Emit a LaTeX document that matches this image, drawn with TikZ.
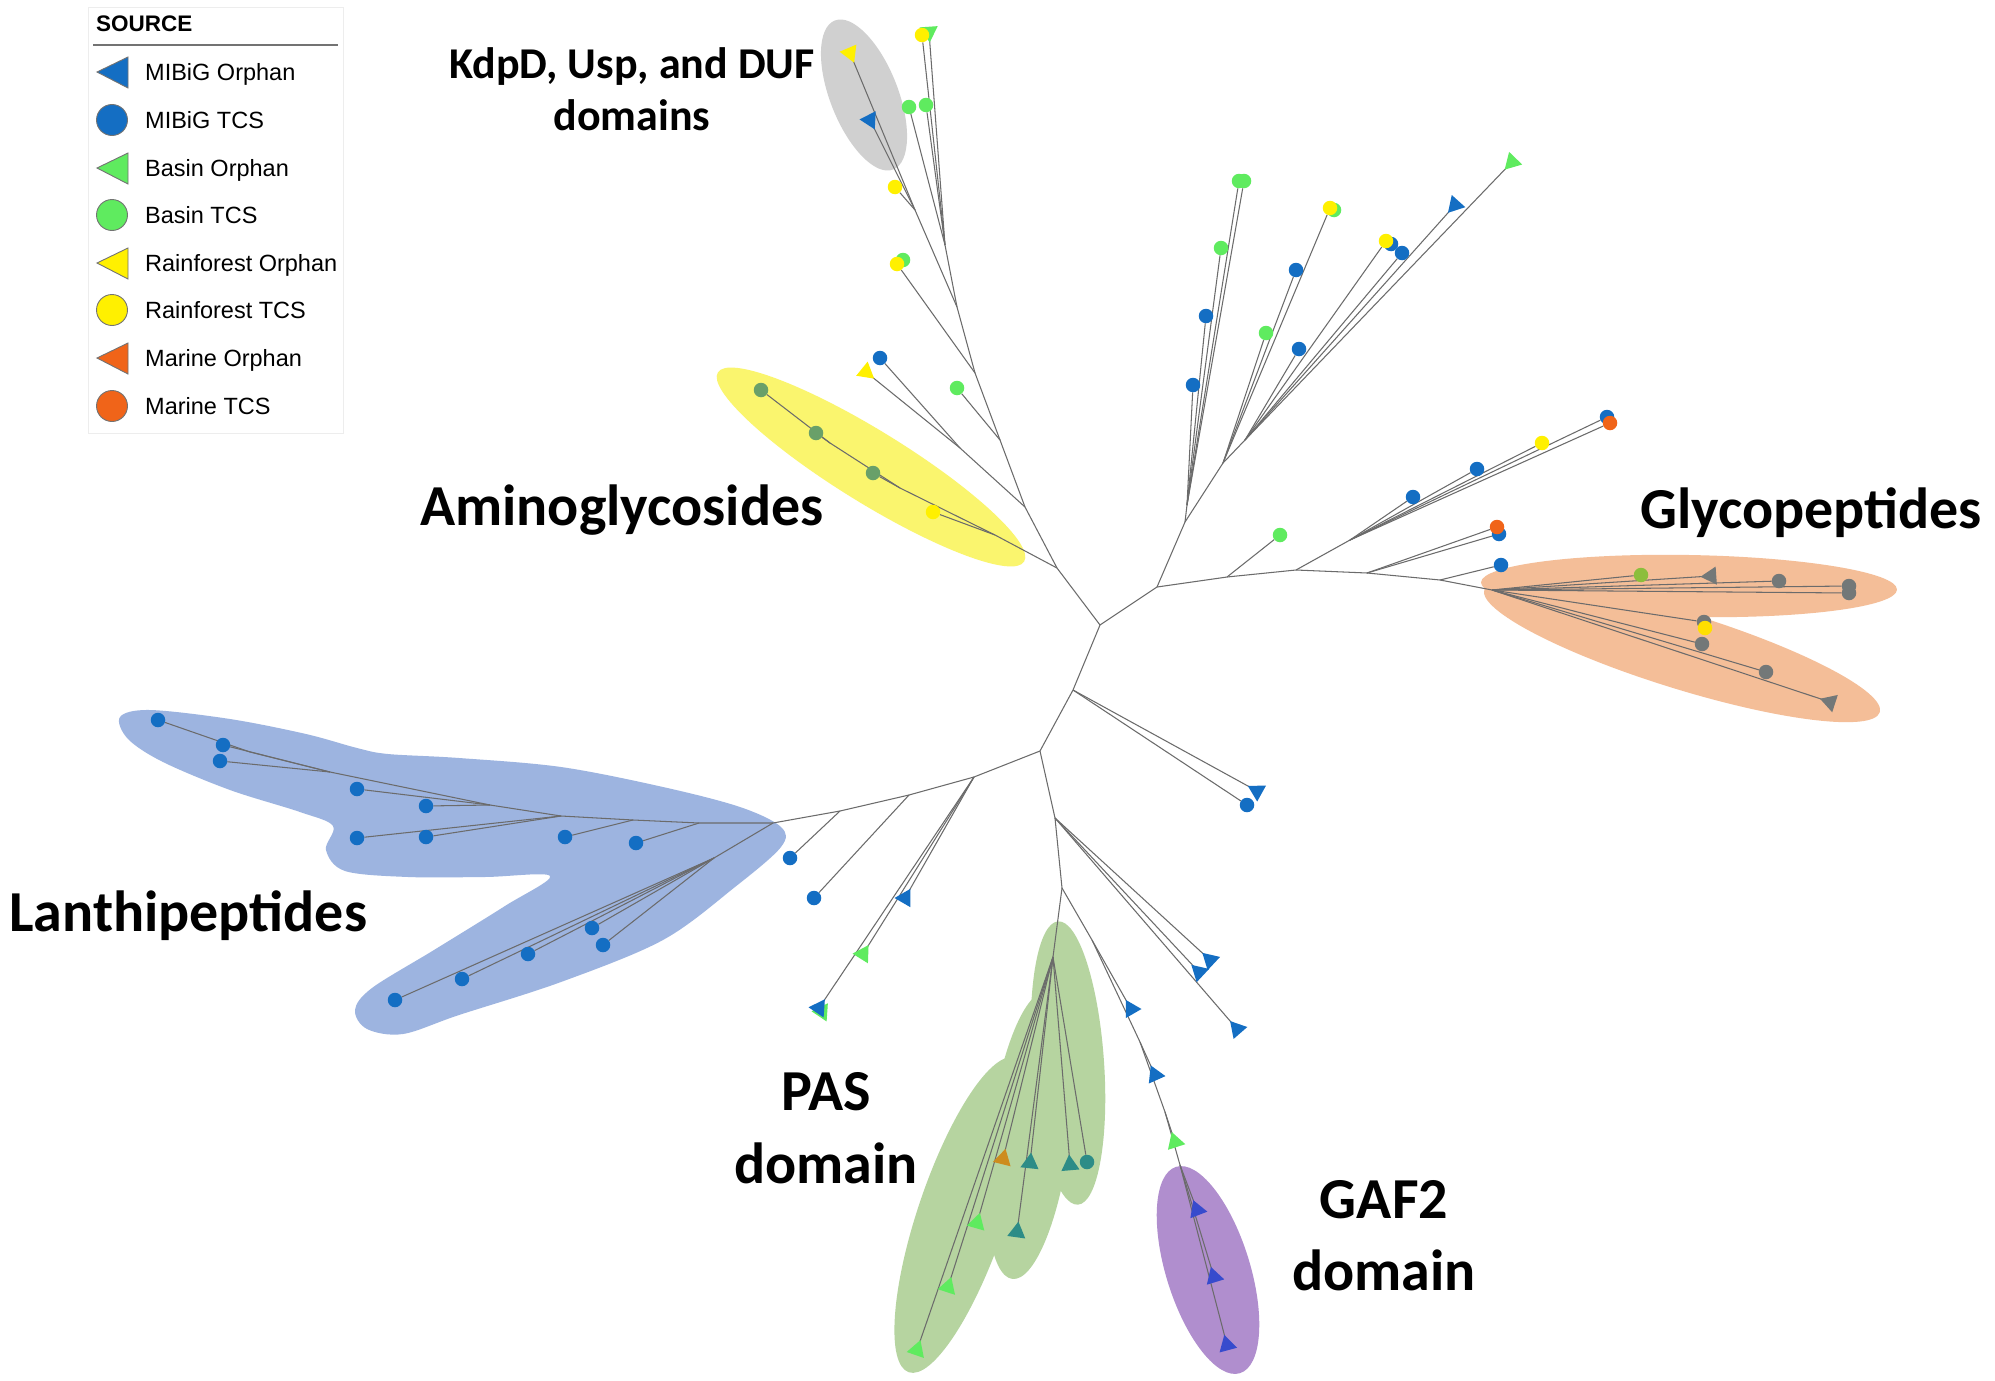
\documentclass[tikz,border=0pt]{standalone}
\usepackage{fontspec}
\setmainfont{Carlito}
\newfontfamily\legfont{Liberation Sans}
\usetikzlibrary{shapes.geometric}
\pgfdeclarelayer{paper}
\pgfdeclarelayer{shade}
\pgfdeclarelayer{edges}
\pgfsetlayers{paper,shade,edges,main}
\definecolor{mblue}{RGB}{20,110,195}
\definecolor{bgreen}{RGB}{95,235,95}
\definecolor{ryellow}{RGB}{255,240,0}
\definecolor{morange}{RGB}{240,100,25}
\definecolor{tealc}{RGB}{45,140,135}
\definecolor{amg}{RGB}{105,160,105}
\definecolor{ggray}{RGB}{115,120,120}
\definecolor{olive}{RGB}{140,190,60}
\definecolor{porange}{RGB}{205,140,30}
\definecolor{purp}{RGB}{55,75,205}
\definecolor{eblue}{RGB}{157,180,224}
\definecolor{eyellow}{RGB}{250,245,110}
\definecolor{egray}{RGB}{208,208,208}
\definecolor{eorange}{RGB}{244,190,152}
\definecolor{egreen}{RGB}{182,212,160}
\definecolor{epurple}{RGB}{176,142,206}
\newcommand\lfc[3]{\node[lcirc,fill=#1] (#2) at (#3) {};}
\newcommand\lft[4]{\coordinate (#2) at (#3); \fill[#1] ([shift={(#4:10.5)}]#2) -- ([shift={(#4+120:10.5)}]#2) -- ([shift={(#4-120:10.5)}]#2) -- cycle;}
\begin{document}
\begin{tikzpicture}[x=1pt,y=-1pt,
  branch/.style={draw=black!58, line width=1.05pt},
  lcirc/.style={circle, inner sep=0pt, minimum size=14.5pt},
  clab/.style={font=\fontsize{58}{70}\selectfont\bfseries, inner sep=0pt},
  kdlab/.style={font=\fontsize{44}{52}\selectfont\bfseries, inner sep=0pt},
  legtxt/.style={font=\legfont\fontsize{23.5}{28}\selectfont, anchor=base west, inner sep=0pt},
  legmark/.style={draw=black!55, line width=0.9pt}]
\useasboundingbox (0,0) rectangle (1995,1381);
\begin{pgfonlayer}{paper}
\fill[white] (0,0) rectangle (1995,1381);
\end{pgfonlayer}

% ---------- shaded clades ----------
\begin{pgfonlayer}{shade}
\fill[egray, rotate around={-68.6:(864,95)}] (864,95) ellipse [x radius=80pt, y radius=34pt];
\fill[eyellow, rotate around={-31.7:(871,467)}] (871,467) ellipse [x radius=180pt, y radius=36pt];
\fill[eorange, rotate around={-1:(1689,586)}] (1689,586) ellipse [x radius=208pt, y radius=31pt];
\fill[eorange, rotate around={-17.2:(1682,651)}] (1682,651) ellipse [x radius=207pt, y radius=38pt];
\fill[egreen, rotate around={-86:(1068,1063)}] (1068,1063) ellipse [x radius=142pt, y radius=36pt];
\fill[egreen, rotate around={-97:(1030,1135)}] (1030,1135) ellipse [x radius=145pt, y radius=40pt];
\fill[egreen, rotate around={-108.7:(962,1215)}] (962,1215) ellipse [x radius=166pt, y radius=44pt];
\fill[epurple, rotate around={-72.8:(1208,1270)}] (1208,1270) ellipse [x radius=108pt, y radius=42pt];
\fill[eblue] plot[smooth cycle, tension=0.55] coordinates {(120,717) (150,710) (230,719) (306,734) (357,748) (388,754) (459,758) (561,767) (663,787) (740,807) (781,827) (781,847) (735,887) (663,940) (561,982) (459,1015) (403,1034) (367,1029) (355,1010) (372,988) (434,950) (505,906) (550,876) (485,877) (408,877) (345,871) (326,850) (333,826) (300,812) (230,790) (163,762) (128,739)};
\end{pgfonlayer}

% ---------- internal nodes ----------
\coordinate (C0) at (1100,625);
\coordinate (N1) at (1057,568);
\coordinate (N1y) at (995,535);
\coordinate (Ny2) at (900,488);
\coordinate (Ny3) at (830,443);
\coordinate (N1a) at (1025,507);
\coordinate (N1ab) at (960,448);
\coordinate (N1b) at (1000,440);
\coordinate (N1c) at (975,373);
\coordinate (N1d) at (957,307);
\coordinate (Nk) at (915,210);
\coordinate (Ng) at (945,245);
\coordinate (N2) at (1157,587);
\coordinate (N3) at (1185,522);
\coordinate (Nu1) at (1187,505);
\coordinate (Nv) at (1223,463);
\coordinate (Nx) at (1245,440);
\coordinate (N4) at (1227,577);
\coordinate (N5) at (1296,570);
\coordinate (Nr) at (1350,540);
\coordinate (N6) at (1367,573);
\coordinate (Nga) at (1440,580);
\coordinate (Ng0) at (1492,590);
\coordinate (N7) at (1073,690);
\coordinate (N8) at (1040,751);
\coordinate (N11) at (974,777);
\coordinate (N12) at (909,795);
\coordinate (N13) at (840,811);
\coordinate (Lroot) at (773,823);
\coordinate (La1) at (699,823);
\coordinate (La2) at (633,820);
\coordinate (La3) at (561,816);
\coordinate (La4) at (490,805);
\coordinate (La5) at (330,772);
\coordinate (La6) at (250,752);
\coordinate (Lb1) at (714,858);
\coordinate (N9) at (1055,818);
\coordinate (N10) at (1062,888);
\coordinate (Np) at (1053,957);
\coordinate (Nq1) at (1092,940);
\coordinate (Nq2) at (1140,1042);
\coordinate (Nq3) at (1165,1112);
\coordinate (Nq4) at (1180,1165);

% ---------- leaves ----------
% KdpD / top
\lft{ryellow}{k1}{850,53}{67}
\lft{mblue}{k2}{870,120}{63}
\lfc{ryellow}{k3}{895,187}
\lft{bgreen}{k4b}{929,32}{86}
\lfc{ryellow}{k4}{922,35}
\lfc{bgreen}{k5}{909,107}
\lfc{bgreen}{k6}{926,105}
\lfc{bgreen}{k7g}{903,260}
\lfc{ryellow}{k7}{897,264}
\lfc{bgreen}{k8}{957,388}
\lft{ryellow}{k9b}{866,372}{39}
\lfc{mblue}{k9}{880,358}
% aminoglycosides
\lfc{amg}{a1}{761,390}
\lfc{amg}{a2}{816,433}
\lfc{amg}{a3}{873,473}
\lfc{ryellow}{a4}{933,512}
% upper right
\lfc{mblue}{u1}{1193,385}
\lfc{mblue}{u2}{1206,316}
\lfc{bgreen}{u3}{1221,248}
\lfc{bgreen}{u4b}{1244,181}
\lfc{bgreen}{u4}{1239,181}
\lfc{bgreen}{v1}{1266,333}
\lfc{mblue}{v2}{1296,270}
\lfc{bgreen}{v3b}{1334,210}
\lfc{ryellow}{v3}{1330,208}
\lfc{mblue}{x1}{1299,349}
\lfc{mblue}{x2b}{1391,244}
\lfc{ryellow}{x2}{1386,241}
\lfc{mblue}{x3}{1402,253}
\lft{mblue}{x4}{1455,205}{132}
\lft{bgreen}{x5}{1512,162}{134}
% right
\lfc{bgreen}{r0}{1280,535}
\lfc{mblue}{r1}{1413,497}
\lfc{mblue}{r2}{1477,469}
\lfc{ryellow}{r3}{1542,443}
\lfc{mblue}{r4}{1607,417}
\lfc{morange}{r5}{1610,423}
\lfc{mblue}{r6}{1499,534}
\lfc{morange}{r7}{1497,527}
\lfc{mblue}{r8}{1501,565}
% glycopeptides
\lfc{olive}{g1}{1641,575}
\lft{ggray}{g2}{1711,576}{176}
\lfc{ggray}{g3}{1779,581}
\lfc{ggray}{g4b}{1849,593}
\lfc{ggray}{g4}{1849,586}
\lfc{ggray}{g5}{1704,622}
\lfc{ryellow!85!orange}{g5y}{1705,628}
\lfc{ggray}{g6}{1702,644}
\lfc{ggray}{g7}{1766,672}
\lft{ggray}{g8}{1830,702}{-162}
% lower right
\lft{mblue}{t1}{1257,791}{-151}
\lfc{mblue}{t2}{1247,805}
\lft{mblue}{t3}{1210,960}{-137}
\lft{mblue}{t4}{1199,972}{-137}
\lft{mblue}{t5}{1237,1029}{-131}
\lft{mblue}{t6}{1131,1009}{-120}
\lft{mblue}{t7}{1155,1075}{-114}
\lft{bgreen}{t8}{1175,1142}{-108}
\lft{purp}{p1}{1197,1210}{-111}
\lft{purp}{p2}{1214,1277}{-107}
\lft{purp}{p3}{1227,1345}{-105}
% PAS
\lft{bgreen}{s1}{917,1350}{-71}
\lft{bgreen}{s2}{948,1287}{-72}
\lft{bgreen}{s3}{977,1223}{-74}
\lft{porange}{s4}{1003,1159}{-76}
\lft{tealc}{s5}{1030,1163}{-84}
\lft{tealc}{s6}{1017,1232}{-82}
\lft{tealc}{s7}{1070,1165}{-95}
\lfc{tealc}{s8}{1087,1162}
% lower left
\lfc{mblue}{w1}{790,858}
\lfc{mblue}{w2}{814,898}
\lft{mblue}{w3}{905,898}{-60}
\lft{bgreen}{w4}{863,954}{-58}
\lft{bgreen}{w5b}{822,1012}{-56}
\lft{mblue}{w5}{819,1008}{-56}
% lanthipeptides
\lfc{mblue}{l1}{158,720}
\lfc{mblue}{l2}{223,745}
\lfc{mblue}{l3}{220,761}
\lfc{mblue}{l4}{357,789}
\lfc{mblue}{l5}{426,806}
\lfc{mblue}{l6}{357,838}
\lfc{mblue}{l7}{426,837}
\lfc{mblue}{l8}{565,837}
\lfc{mblue}{l9}{636,843}
\lfc{mblue}{l10}{592,928}
\lfc{mblue}{l11}{603,945}
\lfc{mblue}{l12}{528,954}
\lfc{mblue}{l13}{462,979}
\lfc{mblue}{l14}{395,1000}

% ---------- branches ----------
\begin{pgfonlayer}{edges}
\draw[branch] (C0) -- (N1);
\draw[branch] (C0) -- (N2);
\draw[branch] (C0) -- (N7);
% aminoglycosides
\draw[branch] (N1) -- (N1y);
\draw[branch] (N1y) -- (a4);
\draw[branch] (N1y) -- (Ny2);
\draw[branch] (Ny2) -- (a3);
\draw[branch] (Ny2) -- (Ny3);
\draw[branch] (Ny3) -- (a2);
\draw[branch] (Ny3) -- (a1);
% KdpD side
\draw[branch] (N1) -- (N1a);
\draw[branch] (N1a) -- (N1ab);
\draw[branch] (N1ab) -- (k9);
\draw[branch] (N1ab) -- (k9b);
\draw[branch] (N1a) -- (N1b);
\draw[branch] (N1b) -- (k8);
\draw[branch] (N1b) -- (N1c);
\draw[branch] (N1c) -- (k7);
\draw[branch] (N1c) -- (N1d);
\draw[branch] (N1d) -- (Nk);
\draw[branch] (Nk) -- (k3);
\draw[branch] (Nk) -- (k2);
\draw[branch] (Nk) -- (k1);
\draw[branch] (N1d) -- (Ng);
\draw[branch] (Ng) -- (k5);
\draw[branch] (Ng) -- (k6);
\draw[branch] (Ng) -- (k4);
\draw[branch] (Ng) -- (k4b);
% upper right
\draw[branch] (N2) -- (N3);
\draw[branch] (N3) -- (Nu1);
\draw[branch] (Nu1) -- (u1);
\draw[branch] (Nu1) -- (u2);
\draw[branch] (Nu1) -- (u3);
\draw[branch] (Nu1) -- (u4);
\draw[branch] (Nu1) -- (u4b);
\draw[branch] (N3) -- (Nv);
\draw[branch] (Nv) -- (v1);
\draw[branch] (Nv) -- (v2);
\draw[branch] (Nv) -- (v3);
\draw[branch] (Nv) -- (Nx);
\draw[branch] (Nx) -- (x1);
\draw[branch] (Nx) -- (x2);
\draw[branch] (Nx) -- (x3);
\draw[branch] (Nx) -- (x4);
\draw[branch] (Nx) -- (x5);
% right trunk
\draw[branch] (N2) -- (N4) -- (N5) -- (N6) -- (Nga) -- (Ng0);
\draw[branch] (N4) -- (r0);
\draw[branch] (N5) -- (Nr);
\draw[branch] (Nr) -- (r1);
\draw[branch] (Nr) -- (r2);
\draw[branch] (Nr) -- (r3);
\draw[branch] (Nr) -- (r4);
\draw[branch] (Nr) -- (r5);
\draw[branch] (N6) -- (r6);
\draw[branch] (N6) -- (r7);
\draw[branch] (Nga) -- (r8);
% glycopeptides
\draw[branch] (Ng0) -- (g1);
\draw[branch] (Ng0) -- (g2);
\draw[branch] (Ng0) -- (g3);
\draw[branch] (Ng0) -- (g4);
\draw[branch] (Ng0) -- (g4b);
\draw[branch] (Ng0) -- (g5);
\draw[branch] (Ng0) -- (g6);
\draw[branch] (Ng0) -- (g7);
\draw[branch] (Ng0) -- (g8);
% lower
\draw[branch] (N7) -- (t1);
\draw[branch] (N7) -- (t2);
\draw[branch] (N7) -- (N8);
\draw[branch] (N8) -- (N11);
\draw[branch] (N11) -- (w3);
\draw[branch] (N11) -- (w4);
\draw[branch] (N11) -- (w5);
\draw[branch] (N11) -- (N12);
\draw[branch] (N12) -- (w2);
\draw[branch] (N12) -- (N13);
\draw[branch] (N13) -- (w1);
\draw[branch] (N13) -- (Lroot);
% lanthipeptides
\draw[branch] (Lroot) -- (La1) -- (La2) -- (La3) -- (La4) -- (La5) -- (La6);
\draw[branch] (La6) -- (l1);
\draw[branch] (La1) -- (l9);
\draw[branch] (La2) -- (l8);
\draw[branch] (La3) -- (l7);
\draw[branch] (La3) -- (l6);
\draw[branch] (La4) -- (l5);
\draw[branch] (La4) -- (l4);
\draw[branch] (La5) -- (l2);
\draw[branch] (La5) -- (l3);
\draw[branch] (Lroot) -- (Lb1);
\draw[branch] (Lb1) -- (l10);
\draw[branch] (Lb1) -- (l11);
\draw[branch] (Lb1) -- (l12);
\draw[branch] (Lb1) -- (l13);
\draw[branch] (Lb1) -- (l14);
% lower middle
\draw[branch] (N8) -- (N9);
\draw[branch] (N9) -- (t3);
\draw[branch] (N9) -- (t4);
\draw[branch] (N9) -- (t5);
\draw[branch] (N9) -- (N10);
\draw[branch] (N10) -- (Nq1);
\draw[branch] (Nq1) -- (t6);
\draw[branch] (Nq1) -- (Nq2);
\draw[branch] (Nq2) -- (t7);
\draw[branch] (Nq2) -- (Nq3);
\draw[branch] (Nq3) -- (t8);
\draw[branch] (Nq3) -- (Nq4);
\draw[branch] (Nq4) -- (p1);
\draw[branch] (Nq4) -- (p2);
\draw[branch] (Nq4) -- (p3);
% PAS
\draw[branch] (N10) -- (Np);
\draw[branch] (Np) -- (s1);
\draw[branch] (Np) -- (s2);
\draw[branch] (Np) -- (s3);
\draw[branch] (Np) -- (s4);
\draw[branch] (Np) -- (s5);
\draw[branch] (Np) -- (s6);
\draw[branch] (Np) -- (s7);
\draw[branch] (Np) -- (s8);
\end{pgfonlayer}

% ---------- clade labels ----------
\node[kdlab, anchor=base] (lblK1) at (632,78) {KdpD, Usp, and DUF};
\node[kdlab, anchor=base] (lblK2) at (632,130) {domains};
\node[clab, anchor=base west] (lblAmino) at (420,525) {Aminoglycosides};
\node[clab, anchor=base west] (lblGlyco) at (1640,528) {Glycopeptides};
\node[clab, anchor=base west] (lblLan) at (9,931) {Lanthipeptides};
\node[clab, anchor=base] (lblPAS1) at (826,1110) {PAS};
\node[clab, anchor=base] (lblPAS2) at (826,1183) {domain};
\node[clab, anchor=base] (lblGAF1) at (1384,1218) {GAF2};
\node[clab, anchor=base] (lblGAF2) at (1384,1290) {domain};

% ---------- legend ----------
\draw[draw=black!7, fill=white, line width=1pt] (88,8) rectangle (343,433);
\node[font=\legfont\bfseries\fontsize{22.5}{27}\selectfont, anchor=base west, inner sep=0pt] (legtitle) at (96,32) {SOURCE};
\draw[black!55, line width=1.3pt] (93,45) -- (338,45);
\filldraw[legmark, fill=mblue] (97,72) -- (128,57) -- (128,88) -- cycle;
\node[legtxt] (leg1) at (145,80.5) {MIBiG Orphan};
\filldraw[legmark, fill=mblue] (112,120) circle [radius=15.5pt];
\node[legtxt] (leg2) at (145,128.5) {MIBiG TCS};
\filldraw[legmark, fill=bgreen] (97,168) -- (128,153) -- (128,184) -- cycle;
\node[legtxt] (leg3) at (145,176.5) {Basin Orphan};
\filldraw[legmark, fill=bgreen] (112,215) circle [radius=15.5pt];
\node[legtxt] (leg4) at (145,223.5) {Basin TCS};
\filldraw[legmark, fill=ryellow] (97,263) -- (128,248) -- (128,279) -- cycle;
\node[legtxt] (leg5) at (145,271.5) {Rainforest Orphan};
\filldraw[legmark, fill=ryellow] (112,310) circle [radius=15.5pt];
\node[legtxt] (leg6) at (145,318.5) {Rainforest TCS};
\filldraw[legmark, fill=morange] (97,358) -- (128,343) -- (128,374) -- cycle;
\node[legtxt] (leg7) at (145,366.5) {Marine Orphan};
\filldraw[legmark, fill=morange] (112,406) circle [radius=15.5pt];
\node[legtxt] (leg8) at (145,414.5) {Marine TCS};
\end{tikzpicture}
\end{document}
